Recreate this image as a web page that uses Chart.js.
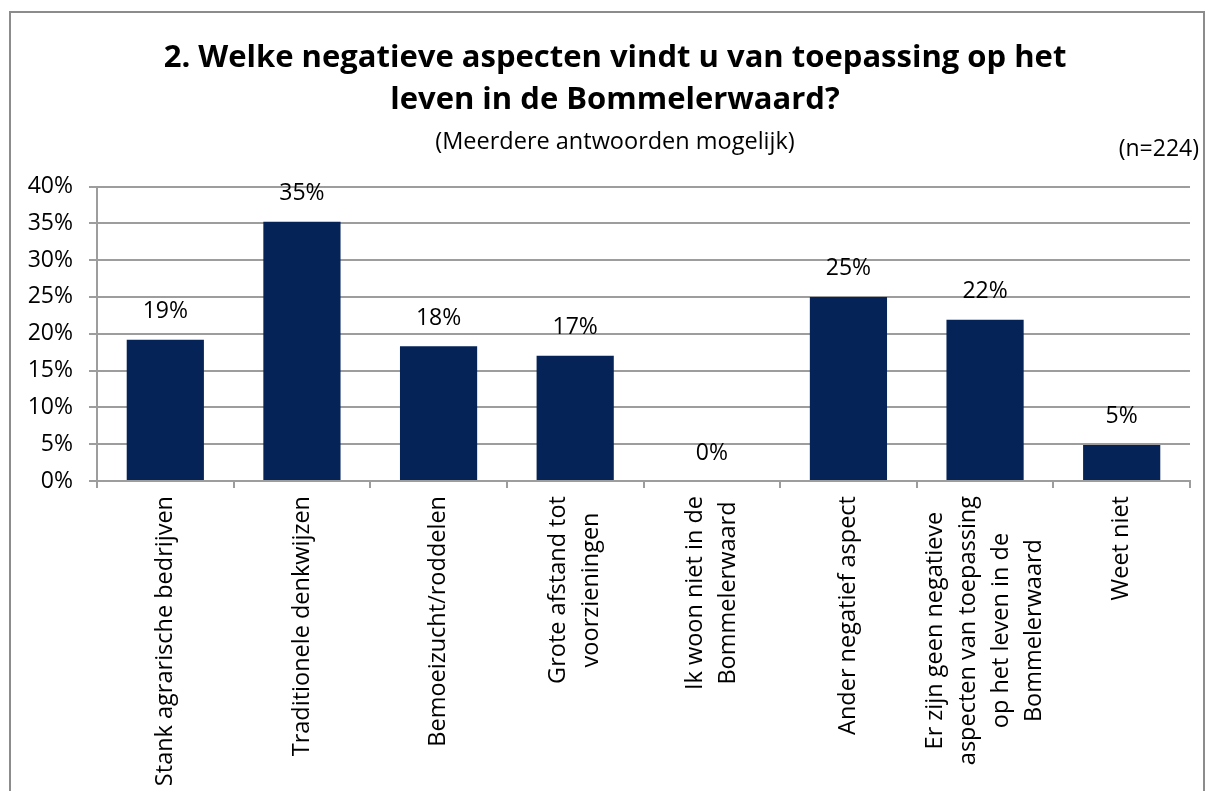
<!DOCTYPE html>
<html>
<head>
<meta charset="utf-8">
<script src="https://cdn.jsdelivr.net/npm/chart.js@4/dist/chart.umd.min.js"></script>
<style>
  html, body { margin: 0; padding: 0; background: #fff; }
  #wrap { width: 1208px; height: 791px; position: relative; }
</style>
</head>
<body>
<div id="wrap"><canvas id="chart" width="1208" height="791"></canvas></div>
<script>
const titleLines = ['2. Welke negatieve aspecten vindt u van toepassing op het', 'leven in de Bommelerwaard?'];
const subtitleText = '(Meerdere antwoorden mogelijk)';
const sampleText = '(n=224)';

const categories = [
    ['Stank agrarische bedrijven'],
    ['Traditionele denkwijzen'],
    ['Bemoeizucht/roddelen'],
    ['Grote afstand tot', 'voorzieningen'],
    ['Ik woon niet in de', 'Bommelerwaard'],
    ['Ander negatief aspect'],
    ['Er zijn geen negatieve', 'aspecten van toepassing', 'op het leven in de', 'Bommelerwaard'],
    ['Weet niet']
];
const percentages = [19.2, 35.2, 18.3, 17.0, 0, 25.0, 21.9, 4.9];
const yTicks = [0, 5, 10, 15, 20, 25, 30, 35, 40];

const FONT = '"Open Sans", "DejaVu Sans", sans-serif';
const LABEL_SIZE = 23.5;
const LABEL_LH = 33;

// white background + grey frame round the whole chart
const framePlugin = {
    id: 'frame',
    beforeDraw(chart) {
        const ctx = chart.ctx;
        ctx.save();
        ctx.fillStyle = '#fff';
        ctx.fillRect(0, 0, chart.width, chart.height);
        ctx.strokeStyle = '#8c8c8c';
        ctx.lineWidth = 2;
        ctx.strokeRect(10, 12, chart.width - 14, chart.height + 20);
        ctx.restore();
    }
};

// title and subtitle sit a little right of the canvas centre
const shiftTitlePlugin = {
    id: 'shiftTitle',
    afterLayout(chart) {
        chart.boxes.forEach(box => {
            if (box.position === 'top' && box.options && box.options.text) {
                box.left += 10;
                box.right += 10;
            }
        });
    }
};

// "(n=224)" at the right
const sampleSizePlugin = {
    id: 'sampleSize',
    afterDraw(chart) {
        const ctx = chart.ctx;
        ctx.save();
        ctx.font = '23px ' + FONT;
        ctx.fillStyle = '#000';
        ctx.textAlign = 'right';
        ctx.textBaseline = 'middle';
        ctx.fillText(sampleText, 1199, 149);
        ctx.restore();
    }
};

// percentage above each bar
const valueLabelPlugin = {
    id: 'valueLabels',
    afterDatasetsDraw(chart) {
        const ctx = chart.ctx;
        const meta = chart.getDatasetMeta(0);
        ctx.save();
        ctx.font = '23px ' + FONT;
        ctx.fillStyle = '#000';
        ctx.textAlign = 'center';
        ctx.textBaseline = 'middle';
        meta.data.forEach((bar, i) => {
            ctx.fillText(Math.round(percentages[i]) + '%', bar.x, bar.y - 28);
        });
        ctx.restore();
    }
};

// centre multi-line rotated category labels on their tick
const centerLabelsPlugin = {
    id: 'centerLabels',
    beforeDraw(chart) {
        const scale = chart.scales.x;
        const items = scale.getLabelItems();
        const ctx = chart.ctx;
        ctx.save();
        ctx.font = LABEL_SIZE + 'px ' + FONT;
        items.forEach(item => {
            if (item._centered) return;
            const lines = Array.isArray(item.label) ? item.label : [item.label];
            const maxW = Math.max(...lines.map(l => ctx.measureText(l).width));
            item.options.translation[0] -= (lines.length - 1) * LABEL_LH / 2;
            item.options.translation[1] += maxW / 2;
            item.options.textAlign = 'center';
            item._centered = true;
        });
        ctx.restore();
    }
};

new Chart(document.getElementById('chart'), {
    type: 'bar',
    data: {
        labels: categories,
        datasets: [{
            data: percentages,
            backgroundColor: '#052357',
            borderWidth: 0,
            categoryPercentage: 1,
            barPercentage: 0.565
        }]
    },
    options: {
        responsive: false,
        animation: false,
        layout: { padding: { top: 37, left: 20, right: 18, bottom: 0 } },
        plugins: {
            legend: { display: false },
            tooltip: { enabled: false },
            title: {
                display: true,
                text: titleLines,
                color: '#000',
                font: { family: FONT, size: 31, weight: 'bold', lineHeight: 1.36 },
                padding: { top: 0, bottom: 7 }
            },
            subtitle: {
                display: true,
                text: subtitleText,
                color: '#000',
                font: { family: FONT, size: 23.5, lineHeight: 1.2 },
                padding: { top: 0, bottom: 30 }
            }
        },
        scales: {
            x: {
                grid: { drawOnChartArea: false, color: '#9d9d9d', lineWidth: 2, tickLength: 7 },
                border: { color: '#9d9d9d', width: 2 },
                ticks: {
                    color: '#000',
                    font: { family: FONT, size: LABEL_SIZE, lineHeight: LABEL_LH / LABEL_SIZE },
                    minRotation: 90,
                    maxRotation: 90,
                    autoSkip: false,
                    padding: 8
                },
                afterFit(scale) { scale.height = 310; }
            },
            y: {
                min: 0,
                max: 40,
                afterBuildTicks(scale) { scale.ticks = yTicks.map(v => ({ value: v })); },
                grid: { color: '#9d9d9d', lineWidth: 2, tickLength: 8 },
                border: { color: '#9d9d9d', width: 2 },
                ticks: {
                    color: '#000',
                    font: { family: FONT, size: 23 },
                    padding: 16,
                    callback: v => v + '%'
                },
                afterFit(scale) { scale.width = 77; }
            }
        }
    },
    plugins: [framePlugin, shiftTitlePlugin, sampleSizePlugin, valueLabelPlugin, centerLabelsPlugin]
});
</script>
</body>
</html>
